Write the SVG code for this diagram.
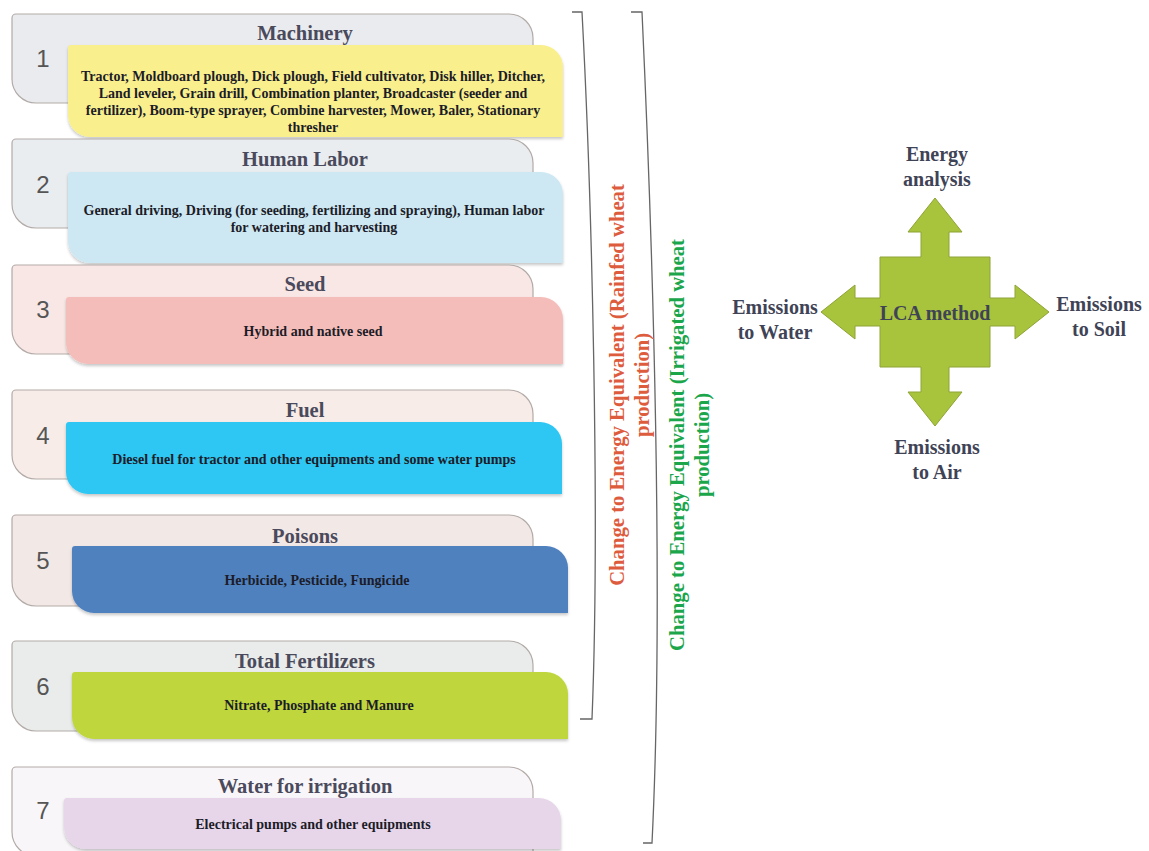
<svg xmlns="http://www.w3.org/2000/svg" width="1149" height="851" viewBox="0 0 1149 851">
<style>
.back{stroke:#b3aba8;stroke-width:1.2}
.front{filter:url(#sh)}
.num{font-family:"Liberation Sans",Arial,sans-serif;font-size:24px;fill:#555;text-anchor:middle}
.title{font-family:"Liberation Serif","Times New Roman",serif;font-weight:bold;font-size:20.5px;fill:#4a4a5c;text-anchor:middle}
.body{font-family:"Liberation Serif","Times New Roman",serif;font-weight:bold;font-size:14px;fill:#1c1c28;text-anchor:middle}
.lbl{font-family:"Liberation Serif","Times New Roman",serif;font-weight:bold;font-size:20px;fill:#3f4356;text-anchor:middle}
.brk{fill:none;stroke:#666;stroke-width:1.3}
.rot{font-family:"Liberation Serif","Times New Roman",serif;font-weight:bold;font-size:20.7px;text-anchor:middle}
</style>
<defs>
<filter id="sh" x="-5%" y="-10%" width="110%" height="130%">
<feDropShadow dx="0" dy="2" stdDeviation="1.5" flood-color="#000" flood-opacity="0.22"/>
</filter>
</defs>
<rect width="1149" height="851" fill="#fff"/>

<g id="card1">
<path class="back" fill="#e9ebee" d="M16,14 H509 A24,24 0 0 1 533,38 V103 H36 A24,24 0 0 1 12,79 V18 A4,4 0 0 1 16,14 Z"/>
<text class="title" x="305" y="40">Machinery</text>
<text class="num" x="43" y="67">1</text>
<path class="front" fill="#f9ef8c" d="M71,45 H541 A22,22 0 0 1 563,67 V137 H90 A22,22 0 0 1 68,115 V48 A3,3 0 0 1 71,45 Z"/>
<text class="body" x="313" y="81">Tractor, Moldboard  plough, Dick plough, Field cultivator, Disk hiller, Ditcher,</text>
<text class="body" x="313" y="98">Land leveler, Grain drill, Combination planter, Broadcaster (seeder and</text>
<text class="body" x="313" y="115">fertilizer), Boom-type sprayer, Combine harvester, Mower, Baler,  Stationary</text>
<text class="body" x="313" y="132">thresher</text>
</g>

<g id="card2">
<path class="back" fill="#e9edf0" d="M16,139 H509 A24,24 0 0 1 533,163 V228 H36 A24,24 0 0 1 12,204 V143 A4,4 0 0 1 16,139 Z"/>
<text class="title" x="305" y="166">Human Labor</text>
<text class="num" x="43" y="193">2</text>
<path class="front" fill="#cde8f3" d="M71,172 H541 A22,22 0 0 1 563,194 V263 H90 A22,22 0 0 1 68,241 V175 A3,3 0 0 1 71,172 Z"/>
<text class="body" x="314" y="215">General driving, Driving (for seeding, fertilizing and spraying), Human labor</text>
<text class="body" x="314" y="232">for watering and harvesting</text>
</g>

<g id="card3">
<path class="back" fill="#f8e7e5" d="M16,265 H509 A24,24 0 0 1 533,289 V354 H36 A24,24 0 0 1 12,330 V269 A4,4 0 0 1 16,265 Z"/>
<text class="title" x="305" y="291">Seed</text>
<text class="num" x="43" y="318">3</text>
<path class="front" fill="#f4bdb9" d="M69,297 H541 A22,22 0 0 1 563,319 V364 H88 A22,22 0 0 1 66,342 V300 A3,3 0 0 1 69,297 Z"/>
<text class="body" x="313" y="336">Hybrid and native seed</text>
</g>

<g id="card4">
<path class="back" fill="#f7ece7" d="M16,390 H509 A24,24 0 0 1 533,414 V479 H36 A24,24 0 0 1 12,455 V394 A4,4 0 0 1 16,390 Z"/>
<text class="title" x="305" y="417">Fuel</text>
<text class="num" x="43" y="444">4</text>
<path class="front" fill="#2ec6f3" d="M69,422 H540 A22,22 0 0 1 562,444 V494 H88 A22,22 0 0 1 66,472 V425 A3,3 0 0 1 69,422 Z"/>
<text class="body" x="314" y="464">Diesel fuel for tractor and other equipments and some water pumps</text>
</g>

<g id="card5">
<path class="back" fill="#f2e8e5" d="M16,515 H509 A24,24 0 0 1 533,539 V606 H36 A24,24 0 0 1 12,582 V519 A4,4 0 0 1 16,515 Z"/>
<text class="title" x="305" y="543">Poisons</text>
<text class="num" x="43" y="569">5</text>
<path class="front" fill="#4f81bf" d="M75,546 H546 A22,22 0 0 1 568,568 V613 H94 A22,22 0 0 1 72,591 V549 A3,3 0 0 1 75,546 Z"/>
<text class="body" x="317" y="585">Herbicide, Pesticide, Fungicide</text>
</g>

<g id="card6">
<path class="back" fill="#e9ecea" d="M16,641 H509 A24,24 0 0 1 533,665 V731 H36 A24,24 0 0 1 12,707 V645 A4,4 0 0 1 16,641 Z"/>
<text class="title" x="305" y="668">Total Fertilizers</text>
<text class="num" x="43" y="695">6</text>
<path class="front" fill="#bfd63e" d="M75,672 H546 A22,22 0 0 1 568,694 V739 H94 A22,22 0 0 1 72,717 V675 A3,3 0 0 1 75,672 Z"/>
<text class="body" x="319" y="710">Nitrate, Phosphate and Manure</text>
</g>

<g id="card7">
<path class="back" fill="#f9f6f9" d="M16,767 H509 A24,24 0 0 1 533,791 V856 H36 A24,24 0 0 1 12,832 V771 A4,4 0 0 1 16,767 Z"/>
<text class="title" x="305" y="793">Water for irrigation</text>
<text class="num" x="43" y="819">7</text>
<path class="front" fill="#e7d6ea" d="M67,798 H539 A22,22 0 0 1 561,820 V849 H86 A22,22 0 0 1 64,827 V801 A3,3 0 0 1 67,798 Z"/>
<text class="body" x="313" y="829">Electrical pumps and other equipments</text>
</g>

<g id="connectors">
<path class="brk" d="M572,12 H582 C592,200 600,520 592,719 H580"/>
<path class="brk" d="M631,12 H642 C653,250 664,600 652,843 H643"/>
</g>

<g id="label-rainfed">
<text class="rot" fill="#de5c3e" transform="translate(624,385) rotate(-90)">Change to Energy Equivalent (Rainfed wheat</text>
<text class="rot" fill="#de5c3e" transform="translate(649,385) rotate(-90)">production)</text>
</g>
<g id="label-irrigated">
<text class="rot" fill="#1ba64c" transform="translate(684,445) rotate(-90)">Change to Energy Equivalent (Irrigated wheat</text>
<text class="rot" fill="#1ba64c" transform="translate(709,445) rotate(-90)">production)</text>
</g>

<g id="lca">
<polygon fill="#a8c43c" stroke="#8ea336" stroke-width="1" points="921,257 921,232 908,232 935,198 962,232 949,232 949,257 990,257 990,298 1015,298 1015,285 1049,312 1015,339 1015,326 990,326 990,367 949,367 949,392 962,392 935,426 908,392 921,392 921,367 880,367 880,326 855,326 855,339 821,312 855,285 855,298 880,298 880,257"/>
<text class="lbl" x="935" y="320">LCA method</text>
</g>
<g id="energy-analysis">
<text class="lbl" x="937" y="161">Energy</text>
<text class="lbl" x="937" y="186">analysis</text>
</g>
<g id="emissions-water">
<text class="lbl" x="775" y="314">Emissions</text>
<text class="lbl" x="775" y="339">to Water</text>
</g>
<g id="emissions-soil">
<text class="lbl" x="1099" y="311">Emissions</text>
<text class="lbl" x="1099" y="336">to Soil</text>
</g>
<g id="emissions-air">
<text class="lbl" x="937" y="454">Emissions</text>
<text class="lbl" x="937" y="479">to Air</text>
</g>
</svg>
